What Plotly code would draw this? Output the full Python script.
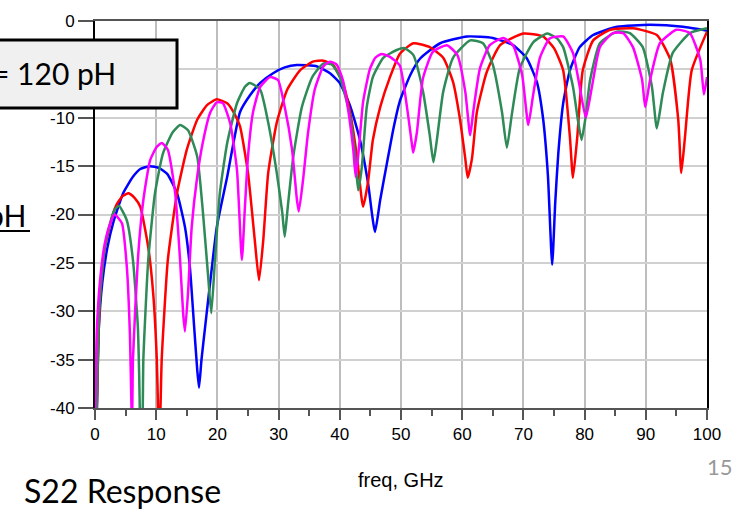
import plotly.graph_objects as go

# ---- data (freq in GHz, S22 in dB) ----
blue_f = [0.1, 0.3, 0.6, 1.2, 2, 3, 4.6, 6.2, 7.4, 9, 10.5, 11.8, 13.4, 14.7, 15.5, 16.2, 16.7, 17.0, 17.4, 18,
          19, 19.9, 21.6, 23.7, 25.3, 27, 29.1, 31, 33, 36.3, 38.4, 40, 41.7, 43.3, 44.6, 45.75, 46.6, 47.7,
          48.8, 49.8, 51.5, 53.1, 56.4, 60.8, 65, 68.3, 70.5, 72.2, 73.2, 74, 74.7, 75.2, 75.7, 76.5, 77.6,
          79.2, 81.4, 85.3, 90.7, 96.1, 100]
blue_db = [-45, -40, -32, -27, -23.5, -20.8, -17.8, -16.1, -15.3, -15, -15.2, -15.8, -17.8, -21.3, -25.4, -31.6,
           -36, -37.9, -35, -31.6, -26, -21.3, -16.1, -9.4, -7.7, -6.4, -5.4, -4.8, -4.55, -4.7, -5.4, -6.4, -8.8,
           -12.3, -16.7, -21.8, -18.5, -14.7, -11, -8.3, -5.6, -3.9, -2.3, -1.6, -1.75, -2.5, -3.8, -6.3, -10,
           -15.9, -25.2, -18.8, -13.7, -8.5, -5.1, -2.7, -1.45, -0.6, -0.4, -0.6, -1.0]

red_f = [0.1, 0.3, 0.6, 1, 1.6, 2.9, 3.5, 4.5, 5.5, 6.5, 7.4, 8.7, 9.5, 10.1, 10.3, 10.5, 10.7, 10.9, 11.9, 13.4,
         15, 16.7, 18.3, 19.9, 21.6, 22.8, 23.7, 25, 26.1, 26.8, 27.5, 28.3, 29.7, 31.4, 33.5, 35.6, 37.3, 38.9,
         40.5, 41.7, 42.8, 43.8, 44.6, 45.4, 46.6, 48.2, 49.8, 52, 54.7, 56.9, 58.5, 59.6, 60.5, 60.9, 61.6,
         62.4, 64, 66.2, 70, 73.2, 75, 76.5, 77.6, 78.1, 78.8, 79.7, 81.4, 84.2, 87.9, 91.8, 94, 95.3, 95.8,
         96.4, 97.5, 100]
red_db = [-45, -40, -32, -27, -23.5, -20, -19, -18.1, -17.8, -18.3, -19.2, -23.4, -28.1, -35, -40, -44, -40, -35,
          -24.7, -17.8, -13.3, -10.2, -8.7, -8.1, -8.5, -9.6, -10.9, -15.7, -22.6, -26.8, -22.6, -15.7, -10.5,
          -7.1, -5.1, -4.2, -4.1, -4.55, -6.4, -9.5, -14, -19.2, -16.7, -12.3, -8.9, -5.8, -3.4, -2.3, -2.7,
          -3.8, -6.3, -10, -14.2, -16.2, -14.2, -9.4, -5.3, -2.5, -1.3, -1.6, -2.8, -5.1, -12, -16.2, -12, -5.1,
          -2, -0.9, -0.75, -1.45, -4, -10.2, -15.7, -12, -5.1, -1.1]

green_f = [0.1, 0.3, 0.6, 1, 1.6, 2.5, 3.2, 3.9, 5.2, 6.2, 7, 7.2, 7.5, 7.8, 7.9, 8.7, 9.8, 11.1, 12.7, 13.9,
           15.2, 16.7, 17.6, 18.5, 19.0, 19.6, 20.4, 21.6, 23.2, 24.5, 25.3, 27, 28.3, 29.7, 30.6, 31, 31.5,
           32.4, 33.8, 35.5, 37.3, 38.7, 40, 41.7, 42.5, 43, 43.6, 44.4, 45.4, 47.1, 49.3, 50.5, 52, 53.6, 54.7,
           55.3, 55.9, 56.9, 58.5, 61.3, 63.4, 65, 66.5, 67.3, 68.1, 69.4, 71.6, 73.9, 75.5, 76.5, 78.1, 78.9,
           79.5, 80.1, 80.9, 82.5, 85.3, 87.4, 89.5, 91, 91.8, 92.8, 94.4, 97.2, 100]
green_db = [-45, -40, -31, -27, -23.5, -20.8, -19.5, -19.1, -20.6, -24.7, -31.6, -36, -45, -40, -35, -24.7, -17.8,
            -13.7, -11.5, -10.75, -11.3, -14, -19.5, -26.5, -30.2, -24.7, -17.8, -12.6, -8.5, -6.8, -6.4, -7.1,
            -10.5, -15.7, -19.8, -22.3, -19.2, -14, -8.9, -5.8, -4.4, -4.5, -5.8, -9.9, -14, -17.5, -15.1, -8.9,
            -5.8, -3.8, -3.0, -2.8, -3.5, -7.3, -11.8, -14.6, -12.1, -7.3, -3.8, -2, -2.3, -4.5, -9.4, -13.1,
            -9.7, -4.9, -2.2, -1.3, -1.8, -2.7, -6.8, -10.2, -12.3, -10.2, -6.1, -2.3, -1.1, -1.25, -2.7, -6.8,
            -11.1, -7.4, -3.3, -1.25, -0.75]

magenta_f = [0.0, 0.3, 0.8, 1.6, 2.5, 3.2, 4.4, 5.2, 5.7, 6.05, 6.2, 7, 7.9, 9, 10.1, 10.9, 11.9, 13.1, 13.9, 14.4,
             14.7, 15.2, 15.8, 16.7, 17.6, 18.8, 19.9, 20.9, 22.1, 23.2, 24, 24.5, 25, 25.8, 27, 28.6, 29.9, 31,
             32.2, 33, 33.3, 34, 34.8, 35.9, 37.3, 38.4, 39.5, 40.5, 41.3, 42.2, 42.6, 43.1, 43.8, 44.9, 45.8,
             46.8, 48.2, 49.8, 51, 51.8, 52, 52.6, 53.6, 55.2, 57.5, 59.2, 60.5, 61.3, 61.8, 62.9, 64.5, 66.7,
             68.3, 69.8, 70.8, 71.6, 72.7, 74.3, 76.5, 78.1, 79.2, 80.2, 81.2, 82.5, 84.6, 86.3, 87.9, 89.4,
             89.9, 90.7, 92.3, 95, 97.2, 98.9, 99.5, 100]
magenta_db = [-42, -32, -27, -23, -20.9, -20, -20.9, -25.4, -32.3, -42, -35, -24.7, -18.5, -14.4, -13, -12.6,
              -13.3, -17.8, -24.7, -30.2, -32.1, -28.1, -21.3, -16.1, -12.6, -9.5, -8.4, -8.5, -10.6, -15.4,
              -24.7, -19.2, -14, -9.5, -6.8, -5.8, -6.1, -8.9, -13.3, -18.5, -19.7, -16.4, -11.6, -7.1, -4.7,
              -4.2, -4.5, -6.1, -8.9, -13.3, -16.1, -13.3, -8.4, -5.0, -3.8, -3.4, -3.7, -4.6, -9, -12.8, -13.6,
              -11.5, -5.9, -3.2, -2.5, -3.5, -7.3, -11.8, -9.4, -4.9, -2.5, -1.75, -2.5, -5.6, -10.75, -7.6,
              -3.8, -1.8, -1.6, -3.3, -6.8, -10, -6.8, -2.7, -1.25, -1.25, -2.7, -6.1, -8.9, -6.1, -2.3, -0.9,
              -1.25, -4, -7.6, -5.8]

x_ticks = [0, 10, 20, 30, 40, 50, 60, 70, 80, 90, 100]
y_ticks = [0, -5, -10, -15, -20, -25, -30, -35, -40]
# the -5 label sits under the text box in the reference, so it is not shown
y_tick_text = ["0", "", "-10", "-15", "-20", "-25", "-30", "-35", "-40"]

series = [
    (blue_f, blue_db, "#0000ff"),
    (red_f, red_db, "#ff0000"),
    (green_f, green_db, "#2e8b57"),
    (magenta_f, magenta_db, "#ff00ff"),
]

fig = go.Figure()
for fx, fy, col in series:
    fig.add_trace(go.Scatter(x=fx, y=fy, mode="lines",
                             line=dict(color=col, width=2.5, shape="spline", smoothing=0.5),
                             showlegend=False, hoverinfo="skip"))

tick_font = dict(family="Liberation Sans, Arial", size=17, color="black")

fig.update_layout(
    width=745, height=512, autosize=False,
    margin=dict(l=95, r=38, t=21, b=104),
    paper_bgcolor="white", plot_bgcolor="white",
    xaxis=dict(range=[0, 100], tickvals=x_ticks, ticktext=[str(v) for v in x_ticks],
               showgrid=True, gridcolor="#bdbdbd", gridwidth=1.5, zeroline=False,
               showline=True, linecolor="#555555", linewidth=2, mirror=True,
               ticks="outside", ticklen=10, tickwidth=1.5, tickcolor="#555555",
               minor=dict(dtick=5, ticks="outside", ticklen=6, tickcolor="#555555", tickwidth=1.5, showgrid=False),
               tickfont=tick_font),
    yaxis=dict(range=[-40, 0], tickvals=y_ticks, ticktext=y_tick_text,
               showgrid=True, gridcolor="#d0d0d0", gridwidth=2, zeroline=False,
               showline=True, linecolor="black", linewidth=2, mirror=True,
               ticks="outside", ticklen=15, tickwidth=2, tickcolor="#555555",
               tickfont=tick_font),
)

# box partially outside the page at top-left
fig.add_shape(type="rect", xref="paper", yref="paper",
              x0=-0.2, x1=0.134, y0=0.7752, y1=0.9509,
              line=dict(color="black", width=3), fillcolor="#f0f0f0", layer="above")
fig.add_annotation(xref="paper", yref="paper", x=0.0376, y=0.8656, xanchor="right", yanchor="middle",
                   text="= 120 pH", showarrow=False,
                   font=dict(family="Lato", size=30, color="black"))

# underlined partial text on the left
fig.add_annotation(xref="paper", yref="paper", x=-0.1095, y=0.4987, xanchor="right", yanchor="middle",
                   text="pH", showarrow=False,
                   font=dict(family="Lato", size=30, color="black"))
fig.add_shape(type="line", xref="paper", yref="paper", x0=-0.2, x1=-0.1062, y0=0.4574, y1=0.4574,
              line=dict(color="black", width=2), layer="above")

# axis title
fig.add_annotation(xref="paper", yref="paper", x=0.5, y=-0.186, xanchor="center", yanchor="middle",
                   text="freq, GHz", showarrow=False,
                   font=dict(family="Liberation Sans, Arial", size=20, color="black"))

# slide texts
fig.add_annotation(xref="paper", yref="paper", x=-0.1193, y=-0.2119, xanchor="left", yanchor="middle",
                   text="S22 Response", showarrow=False,
                   font=dict(family="Lato", size=32, color="black"))
fig.add_annotation(xref="paper", yref="paper", x=1.0458, y=-0.1499, xanchor="right", yanchor="middle",
                   text="15", showarrow=False,
                   font=dict(family="Lato", size=22, color="#999999"))

fig.write_html("out.html")
